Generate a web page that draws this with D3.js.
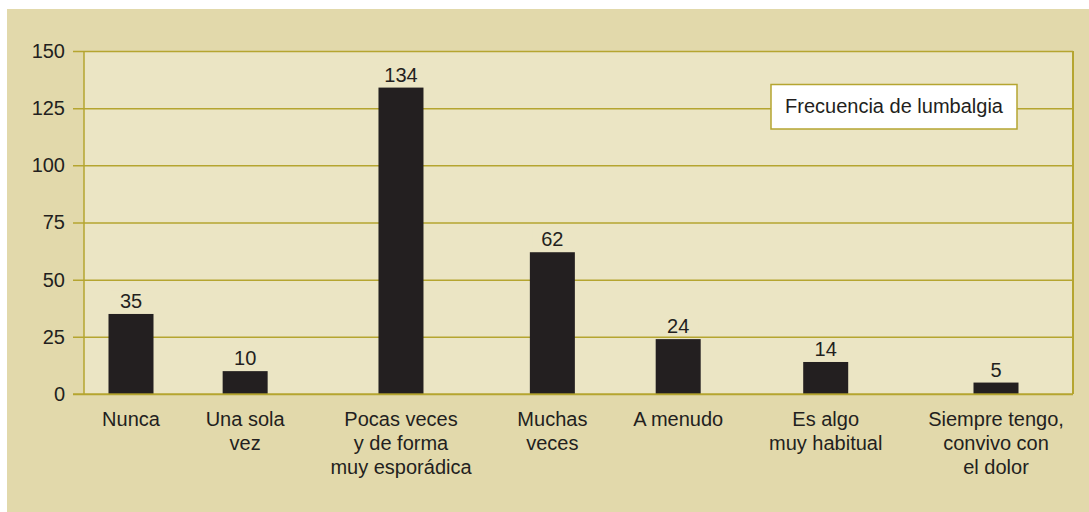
<!DOCTYPE html>
<html>
<head>
<meta charset="utf-8">
<script src="https://cdn.jsdelivr.net/npm/d3@7"></script>
<style>
  html, body { margin: 0; padding: 0; background: #ffffff; }
  svg { display: block; }
  text { font-family: "Liberation Sans", Arial, sans-serif; fill: #231f20; }
</style>
</head>
<body>
<svg id="chart" width="1089" height="512"></svg>
<script>
// ---- data ----
const categories = [
  "Nunca",
  "Una sola\nvez",
  "Pocas veces\ny de forma\nmuy esporádica",
  "Muchas\nveces",
  "A menudo",
  "Es algo\nmuy habitual",
  "Siempre tengo,\nconvivo con\nel dolor"
];
const values = [35, 10, 134, 62, 24, 14, 5];
const yTicks = [0, 25, 50, 75, 100, 125, 150];
const legendLabel = "Frecuencia de lumbalgia";

// ---- layout / style ----
const W = 1089, H = 512;
const plot = { left: 84, right: 1073, top: 51, bottom: 394 };
const colors = {
  outer: "#e2d9ab", plotBg: "#ebe5c4", grid: "#b5a530", bar: "#231f20", text: "#231f20"
};
const fontSize = 20;
const barWidth = 45;

const svg = d3.select("#chart");

// outer background
svg.append("rect").attr("x", 7).attr("y", 9).attr("width", W - 7).attr("height", H - 9)
  .attr("fill", colors.outer);
// plot background
svg.append("rect").attr("x", plot.left).attr("y", plot.top)
  .attr("width", plot.right - plot.left).attr("height", plot.bottom - plot.top)
  .attr("fill", colors.plotBg);

const y = d3.scaleLinear().domain([0, 150]).range([plot.bottom, plot.top]);

// grid + y tick labels
const yAxis = d3.axisLeft(y).tickValues(yTicks).tickSize(-(plot.right - 73)).tickPadding(8)
  .tickFormat(d3.format("d"));
const gy = svg.append("g").attr("transform", "translate(73,0)").call(yAxis);
gy.select(".domain").remove();
gy.selectAll(".tick line").attr("stroke", colors.grid).attr("stroke-width", 1.5);
gy.selectAll(".tick text").attr("font-size", fontSize).attr("fill", colors.text)
  .style("font-family", '"Liberation Sans", Arial, sans-serif');

// left & right plot borders
svg.append("line").attr("x1", plot.left).attr("x2", plot.left)
  .attr("y1", plot.top).attr("y2", plot.bottom).attr("stroke", colors.grid).attr("stroke-width", 1.5);
svg.append("line").attr("x1", plot.right).attr("x2", plot.right)
  .attr("y1", plot.top).attr("y2", plot.bottom).attr("stroke", colors.grid).attr("stroke-width", 2);

// category labels: measure, then space by width (layout of original)
const labelG = svg.append("g");
const labels = labelG.selectAll("text").data(categories).join("text")
  .attr("text-anchor", "middle").attr("font-size", fontSize).attr("y", 426);
labels.each(function(d) {
  const t = d3.select(this);
  d.split("\n").forEach((line, i) => {
    t.append("tspan").attr("x", 0).attr("dy", i === 0 ? 0 : 24).text(line);
  });
});
const widths = [];
labels.each(function() {
  let m = 0;
  d3.select(this).selectAll("tspan").each(function() { m = Math.max(m, this.getComputedTextLength()); });
  widths.push(m);
});
const firstC = 131, lastC = 996;
let halfSum = 0;
for (let i = 0; i < widths.length - 1; i++) halfSum += (widths[i] + widths[i + 1]) / 2;
const gap = (lastC - firstC - halfSum) / (widths.length - 1);
const centers = [firstC];
for (let i = 1; i < widths.length; i++) centers.push(centers[i - 1] + (widths[i - 1] + widths[i]) / 2 + gap);
const x = d3.scaleOrdinal().domain(categories).range(centers);

labels.attr("transform", d => `translate(${x(d)},0)`);

// bars
svg.append("g").selectAll("rect").data(categories).join("rect")
  .attr("x", d => x(d) - barWidth / 2)
  .attr("y", (d, i) => y(values[i]))
  .attr("width", barWidth)
  .attr("height", (d, i) => y(0) - y(values[i]))
  .attr("fill", colors.bar);

// zero line on top
svg.append("line").attr("x1", 73).attr("x2", plot.right)
  .attr("y1", y(0)).attr("y2", y(0)).attr("stroke", colors.grid).attr("stroke-width", 1.5)
  .attr("stroke-opacity", 0.9);

// value labels with background patch
const vl = svg.append("g").selectAll("g").data(categories).join("g")
  .attr("transform", (d, i) => `translate(${x(d)},${y(values[i]) - 6})`);
vl.append("rect").attr("fill", colors.plotBg).attr("y", -17).attr("height", 19);
vl.append("text").attr("text-anchor", "middle").attr("font-size", fontSize)
  .text((d, i) => values[i]);
vl.each(function() {
  const g = d3.select(this);
  const w = g.select("text").node().getComputedTextLength() + 18;
  g.select("rect").attr("x", -w / 2).attr("width", w);
});

// legend
const lg = svg.append("g");
lg.append("rect").attr("x", 771).attr("y", 84.5).attr("width", 246).attr("height", 44.5)
  .attr("fill", "#ffffff").attr("stroke", colors.grid).attr("stroke-width", 1.5);
lg.append("text").attr("x", 894).attr("y", 112.5).attr("text-anchor", "middle")
  .attr("font-size", fontSize).text(legendLabel);
</script>
</body>
</html>
